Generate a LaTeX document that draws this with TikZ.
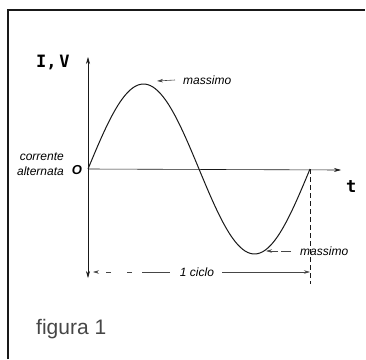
\documentclass[tikz,border=0pt]{standalone}
\usepackage{fontspec}
\setmainfont{Liberation Sans}
\newfontfamily\handfont{DejaVu Sans Mono}
\usepackage{tikz}
\usetikzlibrary{arrows.meta,positioning}
\definecolor{figureline}{RGB}{25,25,25}
\definecolor{labelgray}{RGB}{70,70,70}

\begin{document}
\begin{tikzpicture}[
    x=1pt, y=-1pt,
    axis/.style={draw=figureline, line width=0.7pt},
    arrow/.style={-{Stealth[length=7pt, width=4pt]}, draw=figureline, line width=0.6pt},
    note/.style={-{Stealth[length=6pt, width=3.5pt]}, draw=labelgray, line width=0.6pt},
    tag/.style={font=\fontsize{12}{14}\selectfont\itshape, inner sep=0pt},
    hand/.style={font=\fontsize{17}{19}\handfont\bfseries, inner sep=0pt}
  ]
    \useasboundingbox (0,0) rectangle (366,359);
    \draw[line width=1.6pt, draw=figureline] (8,359) -- (8,10) -- (365,10);

    \coordinate (origin) at (88,169);
    \coordinate (ytop) at (88,57);
    \coordinate (ybot) at (88,278);
    \coordinate (xend) at (341,170);
    \coordinate (peak) at (157,81);
    \coordinate (trough) at (266,251);
    \coordinate (period) at (310,169);
    \coordinate (periodbot) at (310,284);
    \coordinate (cycleleft) at (93,272);
    \coordinate (cycleright) at (310,272);
    \coordinate (cyclemid) at (142,272);

    \draw[arrow, {Stealth[length=7pt, width=4pt]}-{Stealth[length=7pt, width=4pt]}] (ybot) -- (ytop);
    \draw[arrow] (origin) -- (xend);
    \draw[line width=1pt, draw=figureline] plot[domain=0:360, samples=90, smooth]
      ({88+\x/360*222}, {169-85*sin(\x)});
    \draw[axis, dashed, dash pattern=on 5pt off 3pt] (period) -- (periodbot);

    \node[hand, anchor=base west] (iv) at (36,67) {I,\,V};
    \node[hand, anchor=base west] (tlabel) at (346,192) {t};
    \node[font=\fontsize{13}{13}\selectfont\bfseries\itshape, inner sep=0pt] (zero) at (77,170) {O};
    \node[tag, align=right, anchor=east, text depth=0pt] (ac) at (64,164)
      {corrente\\[1pt]alternata};

    \node[tag, anchor=west] (topmax) at (183,80) {massimo};
    \node[tag, anchor=west] (botmax) at (300,251) {massimo};
    \draw[note] (topmax.west) ++(-8,0) -- (peak);
    \draw[note, dashed, dash pattern=on 10pt off 3pt] (botmax.west) ++(-9,0) -- (trough);

    \node[tag] (cycle) at (197,272) {1 ciclo};
    \draw[note] (cycle.east) ++(8,0) -- (cycleright);
    \draw[draw=labelgray, line width=0.6pt] (cycle.west) ++(-10,0) -- (cyclemid);
    \draw[note, dash pattern=on 5pt off 16pt] (cyclemid) ++(-10,0) -- (cycleleft);

    \node[font=\fontsize{21}{23}\selectfont, text=labelgray, anchor=base west, inner sep=0pt] (caption) at (36,334) {figura 1};
  \end{tikzpicture}
\end{document}
